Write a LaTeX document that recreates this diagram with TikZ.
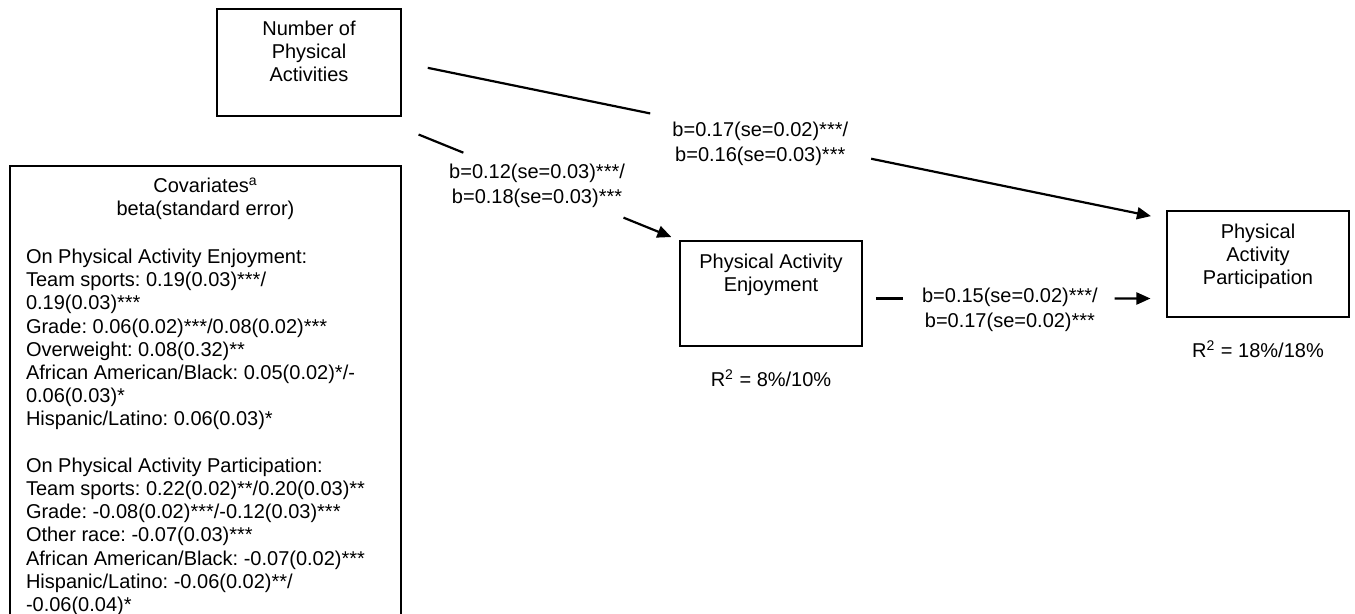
\documentclass[tikz,border=0pt]{standalone}
\usepackage{fontspec}
\setmainfont{Liberation Sans}
\usetikzlibrary{positioning,calc,arrows.meta}
\frenchspacing

\begin{document}
\begin{tikzpicture}[
    x=0.5pt, y=-0.5pt,
    font=\fontsize{10}{11.6}\selectfont,
    line width=0.75pt
  ]
\def\px{0.5pt}

\path[use as bounding box, clip] (0,0) rectangle (1355,614);

\tikzstyle{box}=[draw,inner sep=0pt,minimum width=182*\px,minimum height=105*\px];
\tikzstyle{txt}=[inner sep=0pt,align=center,anchor=north];
\tikzstyle{coef}=[inner sep=0pt,align=center,font=\fontsize{10}{12.5}\selectfont];
\tikzstyle{conn}=[line width=1.1pt];
\tikzstyle{arr}=[-{Triangle[length=7pt,width=6pt]}];

\node[box,minimum width=184*\px,minimum height=107*\px] (npa) at (309,62.5) {};
\node[txt] (npatext) at ($ (npa.north) + (0,12) $) {Number of\\Physical\\Activities};

\node[box,minimum width=391*\px,minimum height=474*\px] (cov) at (205.5,403) {};
\node[txt] (covhead) at ($ (cov.north) + (0,12) $) {Covariates\textsuperscript{\scriptsize a}\\beta(standard error)};
\node[txt,anchor=north west,align=left] (covbody) at ($ (cov.north west) + (16,83) $) {%
On Physical Activity Enjoyment:\\
Team sports: 0.19(0.03)***/\\
0.19(0.03)***\\
Grade: 0.06(0.02)***/0.08(0.02)***\\
Overweight: 0.08(0.32)**\\
African American/Black: 0.05(0.02)*/-\\
0.06(0.03)*\\
Hispanic/Latino: 0.06(0.03)*\\[11.6pt]
On Physical Activity Participation:\\
Team sports: 0.22(0.02)**/0.20(0.03)**\\
Grade: -0.08(0.02)***/-0.12(0.03)***\\
Other race: -0.07(0.03)***\\
African American/Black: -0.07(0.02)***\\
Hispanic/Latino: -0.06(0.02)**/\\
-0.06(0.04)*};

\node[box] (enj) at (771,293.5) {};
\node[txt] (enjtext) at ($ (enj.north) + (0,13) $) {Physical Activity\\Enjoyment};
\node[below=11pt of enj,inner sep=0pt] (enjr2) {R\textsuperscript{2} = 8\%/10\%};

\node[box,minimum height=106*\px] (part) at (1258,264) {};
\node[txt] (parttext) at ($ (part.north) + (0,13) $) {Physical\\Activity\\Participation};
\node[below=11pt of part,inner sep=0pt] (partr2) {R\textsuperscript{2} = 18\%/18\%};

% direct path
\coordinate (s1) at (npa.east);
\coordinate (t1) at ($ (part.north west) + (0,9) $);
\coordinate (aux1a) at ($ (s1)!0.034!(t1) $);
\coordinate (aux1b) at ($ (s1)!0.325!(t1) $);
\coordinate (aux1c) at ($ (s1)!0.614!(t1) $);
\coordinate (aux1d) at ($ (s1)!0.98!(t1) $);
\draw[conn] (aux1a) -- (aux1b);
\draw[conn,arr] (aux1c) -- (aux1d);
\node[coef] (c1) at ($ (s1)!0.469!(t1) + (0,8) $) {b=0.17(se=0.02)***/\\b=0.16(se=0.03)***};

% via enjoyment
\coordinate (s2) at ($ (npa.south east) + (-27,0) $);
\coordinate (t2) at (enj.north west);
\coordinate (aux2a) at ($ (s2)!0.144!(t2) $);
\coordinate (aux2b) at ($ (s2)!0.291!(t2) $);
\coordinate (aux2c) at ($ (s2)!0.817!(t2) $);
\coordinate (aux2d) at ($ (s2)!0.974!(t2) $);
\draw[conn] (aux2a) -- (aux2b);
\draw[conn,arr] (aux2c) -- (aux2d);
\node[coef] (c2) at ($ (s2)!0.533!(t2) + (0,3) $) {b=0.12(se=0.03)***/\\b=0.18(se=0.03)***};

\coordinate (s3) at ($ (enj.east) + (0,5) $);
\coordinate (t3) at (s3 -| part.west);
\coordinate (aux3a) at ($ (s3)!0.043!(t3) $);
\coordinate (aux3b) at ($ (s3)!0.131!(t3) $);
\coordinate (aux3c) at ($ (s3)!0.830!(t3) $);
\coordinate (aux3d) at ($ (s3)!0.948!(t3) $);
\draw[conn] (aux3a) -- (aux3b);
\draw[conn,arr] (aux3c) -- (aux3d);
\node[coef] (c3) at ($ (s3)!0.485!(t3) + (0,11) $) {b=0.15(se=0.02)***/\\b=0.17(se=0.02)***};

\end{tikzpicture}
\end{document}
